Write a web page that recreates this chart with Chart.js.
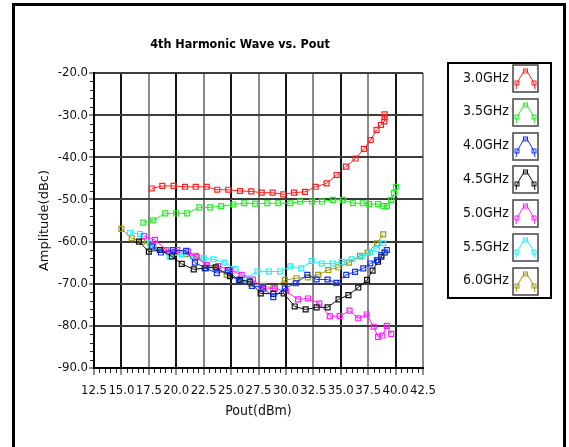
<!DOCTYPE html>
<html><head><meta charset="utf-8">
<script src="https://cdn.jsdelivr.net/npm/chart.js@4.4.1/dist/chart.umd.min.js"></script>
<style>html,body{margin:0;padding:0;background:#fff;}#wrap{position:relative;width:569px;height:447px;}</style>
</head><body><div id="wrap"><canvas id="c" width="569" height="447"></canvas></div>
<script>
const titleText = "4th Harmonic Wave vs. Pout";
const xTitle = "Pout(dBm)";
const yTitle = "Amplitude(dBc)";
const seriesLabels = ["3.0GHz","3.5GHz","4.0GHz","4.5GHz","5.0GHz","5.5GHz","6.0GHz"];
const seriesColors = ["#ff2020","#22ee22","#1030ff","#111111","#ff20ff","#20f0ff","#a09a10"];

const pout30 = [17.76,18.73,19.76,20.8,21.77,22.77,23.74,24.74,25.81,26.84,27.79,28.79,29.76,30.73,31.73,32.71,33.71,34.62,35.47,36.35,37.11,37.72,38.27,38.66,38.97,39.0,39.0];
const amp30  = [-47.4,-46.8,-46.8,-47.0,-47.0,-47.0,-47.7,-47.7,-48.0,-48.1,-48.4,-48.4,-48.8,-48.4,-48.2,-47.0,-46.2,-44.2,-42.2,-40.3,-38.0,-35.9,-33.5,-32.3,-31.5,-30.5,-29.8];

const pout35 = [17.0,17.9,19.0,20.0,21.0,22.1,23.1,24.1,25.2,26.2,27.2,28.3,29.3,30.4,31.3,32.4,33.3,34.3,35.2,36.1,37.0,37.6,38.4,38.9,39.2,39.6,39.85,40.03];
const amp35  = [-55.5,-55.0,-53.3,-53.3,-53.3,-51.9,-51.9,-51.6,-51.2,-50.9,-51.0,-50.9,-50.9,-50.9,-50.5,-50.5,-50.5,-50.1,-50.1,-50.9,-50.9,-51.1,-51.1,-51.6,-51.6,-50.1,-48.5,-47.0];

const pout40 = [17.8,18.6,19.7,20.9,21.7,22.7,23.7,24.7,25.75,26.9,27.9,28.85,29.9,30.9,31.95,32.8,33.8,34.6,35.5,36.3,37.05,37.7,38.3,38.7,39.2];
const amp40  = [-61.2,-62.6,-62.0,-62.2,-65.0,-66.3,-67.5,-66.75,-69.4,-70.5,-70.9,-73.2,-71.1,-69.9,-67.9,-69.0,-69.0,-69.8,-67.9,-67.2,-66.35,-65.2,-64.4,-63.2,-62.0];

const pout45 = [16.6,17.5,18.5,19.6,20.5,21.6,22.6,23.6,24.9,25.8,26.7,27.7,28.85,29.8,30.8,31.8,32.8,33.8,34.8,35.7,36.6,37.4,37.9,38.4,38.7,39.0];
const amp45  = [-60.0,-62.4,-62.0,-63.5,-65.3,-66.6,-66.3,-66.1,-68.2,-69.1,-69.5,-72.3,-72.4,-72.3,-75.4,-76.1,-75.6,-75.6,-73.7,-72.7,-70.9,-69.1,-66.9,-64.8,-63.6,-62.6];

const pout50 = [17.06,18.06,19.1,20.1,21.1,21.86,22.77,23.83,24.9,25.96,27.0,27.93,29.0,30.0,31.1,32.0,33.04,34.0,34.9,35.8,36.6,37.36,38.0,38.4,38.8,39.2,39.6];
const amp50  = [-58.7,-59.6,-62.0,-62.0,-62.4,-63.7,-65.6,-65.8,-66.75,-67.9,-69.0,-71.3,-71.1,-71.8,-73.7,-73.5,-74.7,-77.7,-77.7,-76.4,-78.2,-77.3,-80.2,-82.6,-82.3,-80.0,-81.9];

const pout55 = [15.78,16.7,17.6,18.6,19.4,20.5,21.5,22.5,23.4,24.4,25.4,26.4,27.4,28.45,29.46,30.4,31.4,32.35,33.26,34.26,35.1,36.0,36.9,37.66,38.27,38.87];
const amp55  = [-57.9,-58.2,-60.5,-62.0,-63.6,-63.0,-63.5,-64.0,-64.2,-65.0,-66.5,-68.7,-67.1,-67.1,-67.1,-65.9,-66.35,-64.6,-65.2,-65.2,-64.8,-64.2,-63.6,-62.6,-61.8,-60.4];

const pout60 = [15.0,15.94,16.9,17.9,18.9,19.9,20.9,21.8,22.8,23.7,24.6,25.7,26.8,27.9,28.85,29.9,30.97,32.0,32.95,33.86,34.77,35.75,36.75,37.45,38.3,38.87];
const amp60  = [-57.0,-59.2,-60.0,-61.0,-62.0,-62.5,-63.0,-63.4,-65.5,-66.5,-67.9,-69.0,-70.0,-70.5,-71.1,-69.1,-68.7,-68.5,-67.9,-66.75,-66.1,-65.0,-63.4,-62.6,-60.4,-58.3];

const xTicks = [12.5,15.0,17.5,20.0,22.5,25.0,27.5,30.0,32.5,35.0,37.5,40.0,42.5];
const yTicks = [-90,-80,-70,-60,-50,-40,-30,-20];

const allX = [pout30,pout35,pout40,pout45,pout50,pout55,pout60];
const allY = [amp30,amp35,amp40,amp45,amp50,amp55,amp60];

const NARROW = "'Liberation Sans Narrow','DejaVu Sans Condensed','Roboto Condensed',sans-serif";

const datasets = seriesLabels.map((lab, i) => ({
  label: lab,
  data: allX[i].map((x, k) => ({x: x, y: allY[i][k]})),
  borderColor: seriesColors[i],
  backgroundColor: 'rgba(0,0,0,0)',
  borderWidth: 1,
  pointStyle: 'rect',
  pointRadius: 3.5,
  pointBorderWidth: 1.2,
  pointBorderColor: seriesColors[i],
  pointBackgroundColor: 'rgba(0,0,0,0)',
  tension: 0
}));

const decor = {
  id: 'decor',
  beforeDraw(chart) {
    const ctx = chart.ctx;
    ctx.save();
    ctx.fillStyle = '#fff';
    ctx.fillRect(0, 0, chart.width, chart.height);
    ctx.restore();
  },
  afterDraw(chart) {
    const ctx = chart.ctx;
    const xs = chart.scales.x, ys = chart.scales.y;
    const ca = chart.chartArea;
    ctx.save();
    ctx.strokeStyle = '#222';
    ctx.lineWidth = 1;
    ctx.beginPath();
    for (let v = 12.5; v < 42.5 - 1e-6; v += 0.5) {
      const px = Math.round(xs.getPixelForValue(v)) + 0.5;
      const isMajor = Math.abs((v - 12.5) / 2.5 - Math.round((v - 12.5) / 2.5)) < 1e-6;
      if (isMajor) continue;
      ctx.moveTo(px, ca.bottom + 1);
      ctx.lineTo(px, ca.bottom + 5);
    }
    for (let v = -90; v < -20 - 1e-6; v += 2) {
      if (Math.abs(v % 10) < 1e-6) continue;
      const py = Math.round(ys.getPixelForValue(v)) + 0.5;
      ctx.moveTo(ca.left - 4, py);
      ctx.lineTo(ca.left - 1, py);
    }
    ctx.stroke();

    ctx.fillStyle = '#000';
    ctx.font = "bold 12.5px " + NARROW;
    ctx.textAlign = 'center';
    ctx.textBaseline = 'middle';
    ctx.fillText(titleText, 240, 45);

    const lx = 448, ly = 63, lw = 103, lh = 235;
    ctx.lineWidth = 2;
    ctx.strokeStyle = '#000';
    ctx.strokeRect(lx, ly, lw, lh);
    chart.data.datasets.forEach((ds, i) => {
      const yc = 78 + i * 33.8;
      ctx.fillStyle = '#111';
      ctx.font = "14px " + NARROW;
      ctx.textAlign = 'left';
      ctx.textBaseline = 'middle';
      ctx.fillText(ds.label, 463, yc);
      const bx = 513, by = Math.round(yc - 13), bw = 25, bh = 27;
      ctx.fillStyle = '#fff';
      ctx.fillRect(bx, by, bw, bh);
      ctx.lineWidth = 1.5;
      ctx.strokeStyle = '#444';
      ctx.strokeRect(bx, by, bw, bh);
      ctx.strokeStyle = ds.borderColor;
      ctx.lineWidth = 1;
      ctx.beginPath();
      ctx.moveTo(bx + 3, by + 24);
      ctx.lineTo(bx + 4, by + 18);
      ctx.lineTo(bx + 11, by + 6);
      ctx.lineTo(bx + 14, by + 6);
      ctx.lineTo(bx + 21, by + 18);
      ctx.lineTo(bx + 22, by + 24);
      ctx.stroke();
      [[bx + 4, by + 18], [bx + 12.5, by + 6], [bx + 21, by + 18]].forEach(p => {
        ctx.strokeRect(p[0] - 2, p[1] - 2, 4, 4);
      });
    });

    ctx.fillStyle = '#000';
    ctx.fillRect(12, 3, 3, 444);
    ctx.fillRect(12, 3, 554, 3);
    ctx.fillRect(563, 3, 3, 444);
    ctx.restore();
  }
};

new Chart(document.getElementById('c'), {
  type: 'line',
  data: { datasets: datasets },
  plugins: [decor],
  options: {
    responsive: false,
    animation: false,
    devicePixelRatio: 1,
    layout: { padding: { top: 73, right: 146, bottom: 0, left: 0 } },
    plugins: { legend: { display: false }, title: { display: false }, tooltip: { enabled: false } },
    scales: {
      x: {
        type: 'linear', min: 12.5, max: 42.5,
        afterFit: s => { s.height = 79; },
        afterBuildTicks: s => { s.ticks = xTicks.map(v => ({ value: v })); },
        ticks: { callback: v => Number(v).toFixed(1), color: '#111', font: { family: NARROW, size: 13 }, padding: 8, maxRotation: 0, autoSkip: false },
        grid: {
          color: c => (Math.abs(c.tick.value % 5) < 1e-6 ? '#151515' : '#8a8a8a'),
          lineWidth: 2, tickLength: 7, tickColor: '#222', tickWidth: 1
        },
        border: { display: true, color: '#000', width: 2 },
        title: { display: true, text: xTitle, color: '#111', font: { family: NARROW, size: 14 }, padding: { top: 0, bottom: 27 } }
      },
      y: {
        type: 'linear', min: -90, max: -20,
        afterFit: s => { s.width = 94; },
        afterBuildTicks: s => { s.ticks = yTicks.map(v => ({ value: v })); },
        ticks: { callback: v => Number(v).toFixed(1), color: '#111', font: { family: NARROW, size: 13 }, padding: 1 },
        grid: { color: '#3c3c3c', lineWidth: 2, tickLength: 5, tickColor: '#222', tickWidth: 1 },
        border: { display: true, color: '#000', width: 2 },
        title: { display: true, text: yTitle, color: '#111', font: { family: "'DejaVu Sans',sans-serif", size: 13 }, padding: { top: 37, bottom: 0 } }
      }
    }
  }
});
</script></body></html>
